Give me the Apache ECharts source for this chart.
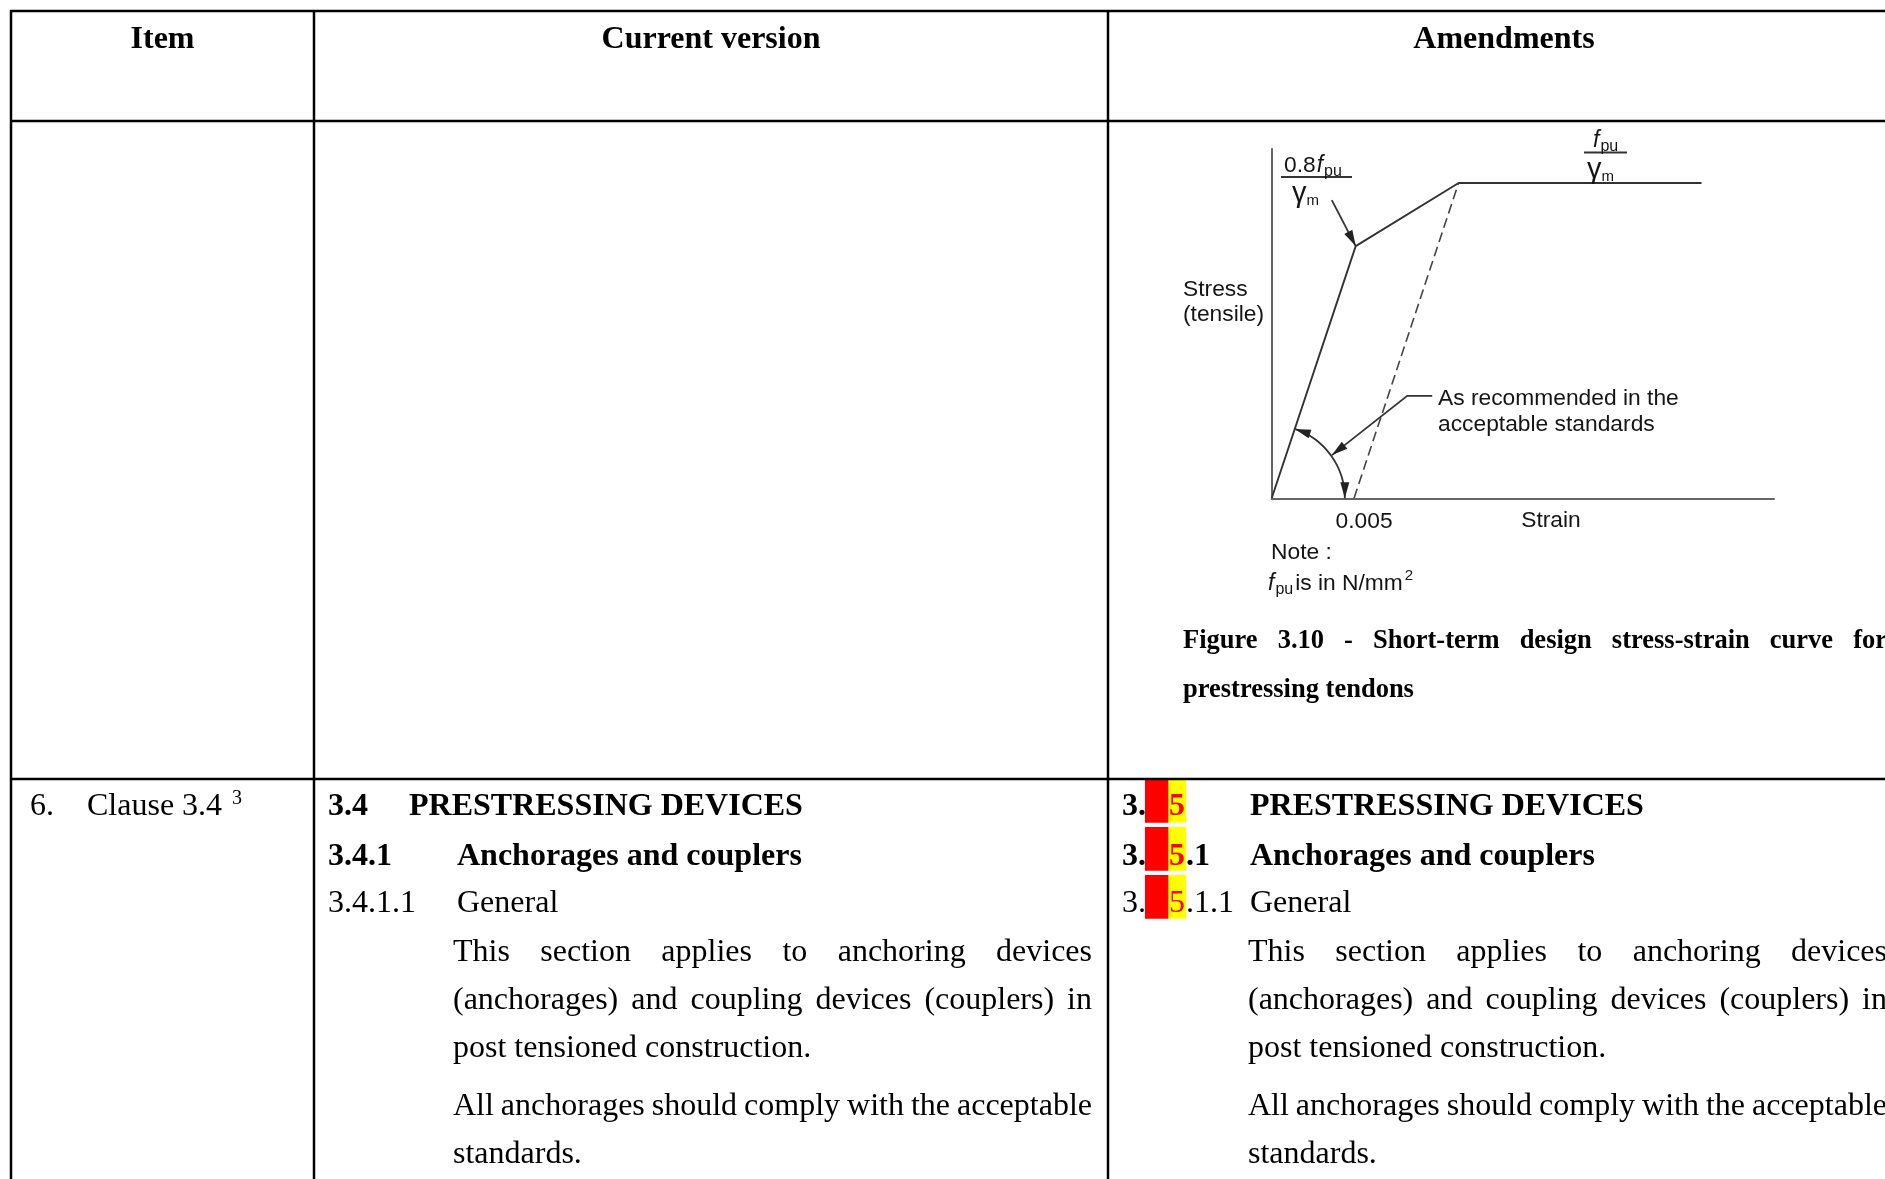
<!DOCTYPE html>
<html><head><meta charset="utf-8">
<script src="https://cdn.jsdelivr.net/npm/echarts@6/dist/echarts.min.js"></script>
<style>html,body{margin:0;padding:0;background:#fff}#c{width:1885px;height:1179px}</style>
</head><body><div id="c"></div>
<script>
// ---------------- chart data (stress in units of fpu/γm) ----------------
const strainCurve = [0, 0.0051, 0.01135, 0.0261];
const stressCurve = [0, 0.8, 1.0, 1.0];
const strainDashed = [0.005, 0.01135];
const stressDashed = [0, 1.0];
const xTickValues = [0.005];
const xTickLabels = ['0.005'];
const kneeArrowStrain = [0.00365, 0.0051];
const kneeArrowStress = [0.946, 0.8];
const leaderStrain = [0.00975, 0.00823, 0.00366];
const leaderStress = [0.325, 0.325, 0.137];
const arcStrain = [0.00444];
const axisMax = [0.0305, 1.108];

// ---------------- text content ----------------
const headerLabels = ['Item', 'Current version', 'Amendments'];
const itemLabels = ['6.', 'Clause 3.4', '3'];
const currentHeadings = [['3.4', 'PRESTRESSING DEVICES'], ['3.4.1', 'Anchorages and couplers'], ['3.4.1.1', 'General']];
const amendHeadings = [['3.', '5', '', 'PRESTRESSING DEVICES'], ['3.', '5', '.1', 'Anchorages and couplers'], ['3.', '5', '.1.1', 'General']];
const paragraphLines = ['This section applies to anchoring devices', '(anchorages) and coupling devices (couplers) in', 'post tensioned construction.', 'All anchorages should comply with the acceptable', 'standards.'];
const paragraphJustified = [true, true, false, true, false];
const captionLines = ['Figure 3.10 - Short-term design stress-strain curve for', 'prestressing tendons'];
const axisTitles = ['Stress', '(tensile)', 'Strain'];
const noteLines = ['Note :', 'is in N/mm'];
const calloutLines = ['As recommended in the', 'acceptable standards'];

// ---------------- helpers ----------------
const SERIF = '"Liberation Serif","Times New Roman",serif';
const SANS = '"Liberation Sans",Arial,Helvetica,sans-serif';
const F32 = '32px ' + SERIF, B32 = 'bold 32px ' + SERIF, B26 = 'bold 26.5px ' + SERIF;
const S22 = '22.8px ' + SANS, I22 = 'italic 23px ' + SANS, S16 = '16px ' + SANS, S15 = '15px ' + SANS, G29 = '29px ' + SANS;
const mctx = document.createElement('canvas').getContext('2d');
function mw(s, font) { mctx.font = font; return mctx.measureText(s).width; }
function txt(s, x, y, font, fill, align) {
  const dy = font.indexOf('Serif') >= 0 ? 3 : 2;
  return { type: 'text', x: x, y: y + dy, silent: true, z: 10,
    style: { text: s, font: font, fill: fill || '#000', align: align || 'left', verticalAlign: 'middle',
             textAlign: align || 'left', textVerticalAlign: 'middle' } };
}
function line(x1, y1, x2, y2, w, c) {
  return { type: 'line', silent: true, z: 5, shape: { x1: x1, y1: y1, x2: x2, y2: y2 }, style: { stroke: c || '#000', lineWidth: w || 2.5 } };
}
function rect(x, y, w, h, c) {
  return { type: 'rect', silent: true, z: 4, shape: { x: x, y: y, width: w, height: h }, style: { fill: c } };
}
function justify(s, x0, x1, y, font, just) {
  const words = s.split(' ');
  const ws = words.map(w => mw(w, font));
  const sum = ws.reduce((a, b) => a + b, 0);
  const gap = just ? (x1 - x0 - sum) / (words.length - 1) : mw(' ', font);
  const out = []; let x = x0;
  words.forEach((w, i) => { out.push(txt(w, x, y, font)); x += ws[i] + gap; });
  return out;
}

const G = [];
// table grid
[11, 121, 779].forEach(y => G.push(line(10, y, 1885, y)));
[11, 314, 1108].forEach(x => G.push(line(x, 10, x, 1179)));
// header
G.push(txt(headerLabels[0], 162.5, 37, B32, '#000', 'center'));
G.push(txt(headerLabels[1], 711, 37, B32, '#000', 'center'));
G.push(txt(headerLabels[2], 1504, 37, B32, '#000', 'center'));
// item column
G.push(txt(itemLabels[0], 30, 804, F32));
G.push(txt(itemLabels[1], 87, 804, F32));
G.push(txt(itemLabels[2], 87 + mw(itemLabels[1], F32) + 10, 796, '20px ' + SERIF));
// current version column
const headY = [804, 853.5, 900.5];
const headFonts = [B32, B32, F32];
const titleX = [409, 457, 457];
currentHeadings.forEach((h, i) => {
  G.push(txt(h[0], 328, headY[i], headFonts[i]));
  G.push(txt(h[1], titleX[i], headY[i], headFonts[i]));
});
const paraY = [950, 998, 1046, 1104, 1152];
paragraphLines.forEach((s, i) => { justify(s, 453, 1092, paraY[i], F32, paragraphJustified[i]).forEach(e => G.push(e)); });
// amendments column
const boxY = [[780, 822.7], [827, 870.7], [875, 918.7]];
amendHeadings.forEach((h, i) => {
  const f = headFonts[i];
  G.push(rect(1145, boxY[i][0], 23.6, boxY[i][1] - boxY[i][0], '#ff0000'));
  G.push(rect(1168.6, boxY[i][0], 17.6, boxY[i][1] - boxY[i][0], '#ffff00'));
  G.push(txt(h[0], 1122, headY[i], f));
  G.push(txt(h[1], 1169, headY[i], f, '#ff0000'));
  if (h[2]) G.push(txt(h[2], 1186, headY[i], f));
  G.push(txt(h[3], 1250, headY[i], f));
});
paragraphLines.forEach((s, i) => { justify(s, 1248, 1887, paraY[i], F32, paragraphJustified[i]).forEach(e => G.push(e)); });
// caption
justify(captionLines[0], 1183, 1887, 638, B26, true).forEach(e => G.push(e));
G.push(txt(captionLines[1], 1183, 687, B26));

// figure texts
const FC = '#151515';
G.push(txt(axisTitles[0], 1183, 288, S22, FC));
G.push(txt(axisTitles[1], 1183, 313, S22, FC));
G.push(txt(axisTitles[2], 1551, 519, S22, FC, 'center'));
G.push(txt(calloutLines[0], 1438, 397, S22, FC));
G.push(txt(calloutLines[1], 1438, 423, S22, FC));
G.push(txt(noteLines[0], 1271, 551, S22, FC));
(function () {
  let x = 1268;
  G.push(txt('f', x, 582, I22, FC)); x += mw('f', I22) + 1;
  G.push(txt('pu', x, 588, S16, FC)); x += mw('pu', S16) + 2;
  G.push(txt(noteLines[1], x, 582, S22, FC)); x += mw(noteLines[1], S22) + 2;
  G.push(txt('2', x, 574, S15, FC));
})();
// knee label 0.8 fpu / γm
(function () {
  let x = 1284;
  G.push(txt('0.8', x, 164, S22, FC)); x += mw('0.8', S22) + 1;
  G.push(txt('f', x, 164, I22, FC)); x += mw('f', I22) + 1;
  G.push(txt('pu', x, 170, S16, FC));
  G.push(line(1281, 177, 1352, 177, 1.8, '#333'));
  G.push(txt('γ', 1292, 192, G29, FC));
  G.push(txt('m', 1292 + mw('γ', G29), 199, S15, FC));
  // top label fpu / γm
  G.push(txt('f', 1593, 139, I22, FC));
  G.push(txt('pu', 1593 + mw('f', I22) + 1, 145, S16, FC));
  G.push(line(1584, 152.5, 1627, 152.5, 1.8, '#333'));
  G.push(txt('γ', 1587, 168, G29, FC));
  G.push(txt('m', 1587 + mw('γ', G29), 175, S15, FC));
})();

function head(tip, dir, L, W) {
  const bx = tip[0] - dir[0] * L, by = tip[1] - dir[1] * L;
  const nx = -dir[1], ny = dir[0];
  return { type: 'polygon', shape: { points: [tip, [bx + nx * W, by + ny * W], [bx - nx * W, by - ny * W]] }, style: { fill: '#222' } };
}
function arrowGroup(api, xs, ys) {
  const pts = xs.map((s, i) => api.coord([s, ys[i]]));
  const a = pts[pts.length - 2], b = pts[pts.length - 1];
  const dx = b[0] - a[0], dy = b[1] - a[1], d = Math.hypot(dx, dy);
  return [
    { type: 'polyline', shape: { points: pts }, style: { stroke: '#333', lineWidth: 1.8, fill: null } },
    head(b, [dx / d, dy / d], 16, 4.5)
  ];
}

const chart = echarts.init(document.getElementById('c'), null, { renderer: 'canvas', width: 1885, height: 1179 });
chart.setOption({
  backgroundColor: '#ffffff',
  animation: false,
  grid: { left: 1271.7, top: 149, width: 502.3, height: 349.3, containLabel: false, outerBoundsMode: 'none' },
  xAxis: {
    type: 'value', min: 0, max: axisMax[0],
    axisLine: { show: true, onZero: false, lineStyle: { color: '#666', width: 2 } },
    axisTick: { show: false }, splitLine: { show: false },
    axisLabel: {
      show: true, customValues: xTickValues, margin: 12, padding: [0, 0, 0, 20],
      formatter: v => { const i = xTickValues.findIndex(t => Math.abs(t - v) < 1e-9); return i >= 0 ? xTickLabels[i] : ''; },
      fontFamily: SANS, fontSize: 22.8, color: FC
    }
  },
  yAxis: {
    type: 'value', min: 0, max: axisMax[1],
    axisLine: { show: true, onZero: false, lineStyle: { color: '#666', width: 2 } },
    axisTick: { show: false }, splitLine: { show: false }, axisLabel: { show: false }
  },
  series: [
    { type: 'line', data: strainCurve.map((s, i) => [s, stressCurve[i]]), symbol: 'none', silent: true,
      lineStyle: { color: '#333', width: 1.9 } },
    { type: 'line', data: strainDashed.map((s, i) => [s, stressDashed[i]]), symbol: 'none', silent: true,
      lineStyle: { color: '#444', width: 1.6, type: [10, 5] } },
    { type: 'custom', coordinateSystem: 'cartesian2d', data: [[0, 0]], silent: true, clip: false,
      renderItem: function (params, api) {
        const o = api.coord([0, 0]);
        const e = api.coord([arcStrain[0], 0]);
        const k = api.coord([strainCurve[1], stressCurve[1]]);
        const r = e[0] - o[0];
        const a1 = Math.atan2(k[1] - o[1], k[0] - o[0]);
        const p1 = [o[0] + r * Math.cos(a1), o[1] + r * Math.sin(a1)];
        const children = [
          { type: 'arc', shape: { cx: o[0], cy: o[1], r: r, startAngle: a1, endAngle: 0, clockwise: true },
            style: { stroke: '#333', lineWidth: 1.8, fill: null } },
          head([o[0] + r, o[1]], [0, 1], 16, 4.5),
          head(p1, [Math.sin(a1), -Math.cos(a1)], 16, 4.5)
        ].concat(arrowGroup(api, kneeArrowStrain, kneeArrowStress))
         .concat(arrowGroup(api, leaderStrain, leaderStress));
        return { type: 'group', children: children };
      }
    }
  ],
  graphic: { elements: G }
});
</script>
</body></html>
